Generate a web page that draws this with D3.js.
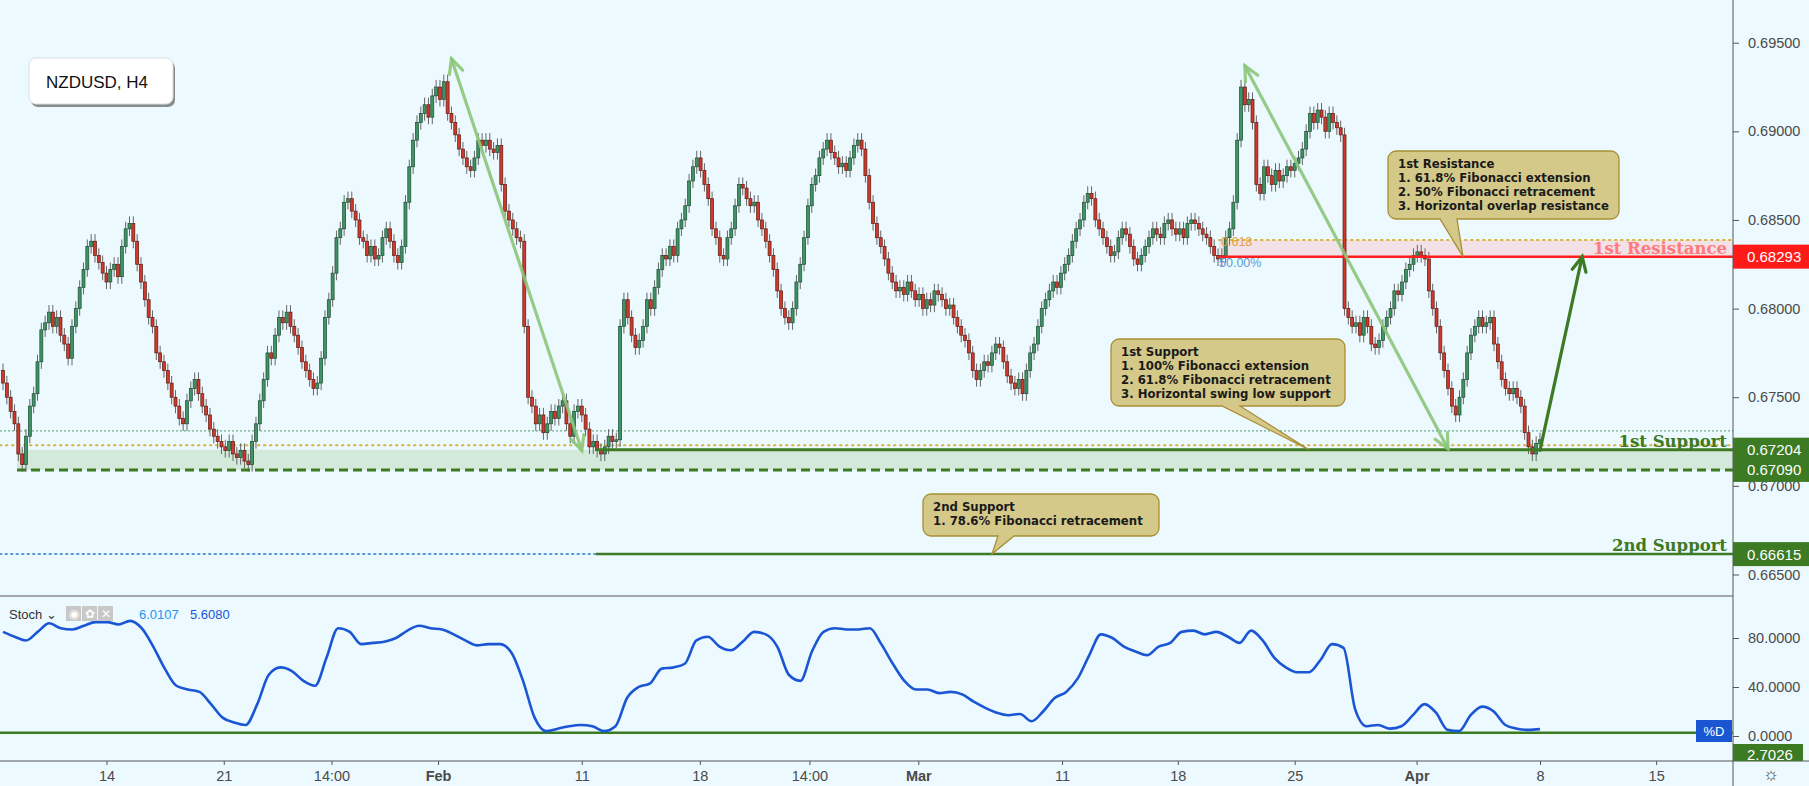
<!DOCTYPE html>
<html><head><meta charset="utf-8">
<script src="https://cdn.jsdelivr.net/npm/d3@7"></script>
<style>body{margin:0;background:#ecf9ff;overflow:hidden}svg{display:block}</style>
</head><body><svg id="c" width="1809" height="786"></svg>
<script>
// closes in pips (0.xxxx)
const closes = [6758,6750,6742, 6735,6718,6712,6728, 6745,6752,6770,6788,6792, 6798,6790,6795,6785,6780,6772,
6790,6800,6812,6822,6835, 6838,6830,6826,6820,6815, 6822,6825,6818,6835,6845,6848, 6838,6825,6815,6805,6795,
6790,6775,6770,6765,6758,6750, 6745,6738,6735,6748,6755,6760, 6752,6745,6740,6732,6728,6725,
6722,6720,6725,6718,6716,6720,6714,6712, 6725,6735,6748,6760,6775,6772, 6785,6795,6792,6798,6790,6785,
6778,6770,6765,6760,6755,6758, 6772,6795,6805,6820,6840,6845, 6860,6862,6855,6850,6840,6838,
6830,6835,6828,6830,6840,6845, 6838,6830,6826,6835,6860,6880, 6895,6905,6910,6915,6908,6920,6925,
6918,6928,6910,6905,6898,6890,6885, 6880,6878,6885,6895,6892,6895,6890,6888,6892, 6870,6855,6850,6845,6840,6838,
6790,6750,6745,6735,6740,6730,6735, 6742,6738,6745,6748,6735,6728,6742,6745,6740, 6732,6722,6725,6720,6718,6722,6728,6725,6726,
6790,6805,6795,6785, 6778,6782,6790,6805,6800,6812,6822,6830, 6828,6835,6830,6845,6850,6858,6872,6880,6885,
6878,6870,6862,6845,6840,6830, 6828,6840,6845,6858,6870,6868,6862,6858,6860, 6850,6845,6838,6830,6822,6810,6800,6795,6792,6800,
6815,6825,6840,6858,6870,6875,6885,6890,6895, 6888,6885,6880,6882,6878,6885,6892,6895,6890, 6875,6860,6848,6840,6835,6828,6820,6815,6810,
6812,6808,6815,6810,6805,6808,6800,6805,6802, 6810,6808,6805,6800,6802,6795,6790,6785,6782, 6775,6765,6760,6765,6770,6768,6775,6780,6778,
6770,6762,6758,6755,6760,6752,6765,6775,6780, 6790,6800,6805,6810,6815,6812,6820,6825,6830, 6838,6845,6850,6860,6865,6862,6850,6845,6840,
6835,6830,6832,6840,6845,6842,6835,6828,6825, 6830,6835,6840,6845,6842,6840,6848,6850,6845, 6842,6845,6840,6848,6850,6848,6845,6842,6840,
6835,6830,6828,6830,6840,6845,6860,6895, 6925,6915,6918,6905,6870, 6865,6880,6875,6870,6878,6872,6875,6880,6878,6882,6885,6890,
6900,6910,6905,6912,6908,6900,6910,6905,6902,6898, 6800,6795,6790,6792,6785,6795,6790,6780,6778,6782,
6790,6795,6800,6810,6808,6815,6822,6825,6830,6832,6830,6828, 6810,6800,6790,6775,6765,6755,6745,6740,6750,
6760,6775,6785,6790,6795,6790,6792,6795,6780, 6770,6760,6755,6752,6755,6750,6745,6730,6722,6718,6724,6726];
const firstOpen = 6765;
const stochVals = [85,81,78,85,92,88,87,90,93,93,91,94,88,73,55,41,38,36,26,15,11,9,26,50,56,53,45,41,64,88,85,75,76,77,80,86,90,88,87,83,78,74,75,75,68,45,15,4,6,8,9,8,4,8,31,40,43,55,56,59,78,81,73,70,77,85,83,73,50,45,69,85,88,87,87,88,75,59,45,38,38,35,36,34,28,23,19,17,18,12,20,31,36,47,66,83,80,73,69,66,73,76,85,86,83,85,81,76,86,78,64,56,52,52,62,75,72,22,8,9,6,8,17,26,19,5,4,17,24,20,9,6,5,5.6];
const priceTicks = [0.695,0.690,0.685,0.680,0.675,0.670,0.665];
const stochTicks = [80,40,0];
const timeLabels = ["14","21","14:00","Feb","11","18","14:00","Mar","11","18","25","Apr","8","15"];
const timeIdx = [27,57.6,85.7,113.5,151,181.8,210.4,238.8,276.3,306.5,337,368.8,401,431.3];
const boldLabels = ["Feb","Mar","Apr"];
const res1 = 0.68293, res1Top = 0.68387;
const sup1 = 0.67204, sup1Low = 0.67090, sup2 = 0.66615, orangeSup = 0.67229, lastLine = 0.67310;
const resNotes = ["1st Resistance","1. 61.8% Fibonacci extension","2. 50% Fibonacci retracement","3. Horizontal overlap resistance"];
const sup1Notes = ["1st Support","1. 100% Fibonacci extension","2. 61.8% Fibonacci retracement","3. Horizontal swing low support"];
const sup2Notes = ["2nd Support","1. 78.6% Fibonacci retracement"];

const svg = d3.select("#c");
const W=1809, AX=1733;
const x = d3.scaleLinear().domain([0,401]).range([3,1540]);
const y = d3.scaleLinear().domain([0.665,0.695]).range([574.5,42.7]);
const ys = d3.scaleLinear().domain([0,80]).range([736,638]);
const fmt = d3.format(".5f");

svg.append("rect").attr("width",W).attr("height",786).attr("fill","#ecf9ff");
svg.append("rect").attr("x",1219).attr("y",y(res1Top)).attr("width",AX-1219).attr("height",y(res1)-y(res1Top)).attr("fill","#f2e1e6");
svg.append("rect").attr("x",17).attr("y",y(sup1)).attr("width",AX-17).attr("height",y(sup1Low)-y(sup1)).attr("fill","#d3eadb");
const hl=(p,x1,x2,col,w,dash)=>svg.append("line").attr("x1",x1).attr("x2",x2).attr("y1",y(p)).attr("y2",y(p)).attr("stroke",col).attr("stroke-width",w).attr("stroke-dasharray",dash||null);
hl(lastLine,0,AX,"#4d9a6a",1,"2,2");
hl(orangeSup,0,AX,"#d6b33a",2,"1.5,4.5").attr("stroke-linecap","round");
hl(res1Top,1219,AX,"#d6b33a",2,"1.5,4.5").attr("stroke-linecap","round");
hl(sup2,0,596,"#5a9ad6",2,"1.5,4").attr("stroke-linecap","round");

const cd = closes.map((c,i)=>{const o=i?closes[i-1]:firstOpen;return {i,o:o/1e4,c:c/1e4};});
const g = svg.append("g");
g.selectAll(".w").data(cd).join("line").attr("x1",d=>x(d.i)).attr("x2",d=>x(d.i))
 .attr("y1",d=>y(Math.max(d.o,d.c)+0.0004)).attr("y2",d=>y(Math.min(d.o,d.c)-0.0004)).attr("stroke","#666").attr("stroke-width",1);
g.selectAll(".b").data(cd).join("rect").attr("x",d=>x(d.i)-1.5).attr("width",3)
 .attr("y",d=>y(Math.max(d.o,d.c))).attr("height",d=>Math.max(1.5,Math.abs(y(d.o)-y(d.c))))
 .attr("fill",d=>d.c>=d.o?"#3f9466":"#d0392b").attr("stroke",d=>d.c>=d.o?"#1f4a30":"#5a1a12").attr("stroke-width",0.7);

hl(res1,1219,AX,"#ff1e1e",2.5);
hl(sup1,596,AX,"#3c7a23",3);
hl(sup1Low,17,AX,"#3c7a23",3,"9,5");
hl(sup2,596,AX,"#3c7a23",2.5);

svg.append("text").attr("x",1221).attr("y",y(res1Top)+6).text("0.618").attr("fill","#e0a040").attr("font-family","Liberation Sans").attr("font-size",12.5);
svg.append("text").attr("x",1219).attr("y",y(res1)+10).text("50.00%").attr("fill","#5a9ad6").attr("font-family","Liberation Sans").attr("font-size",12.5);

function arrow(x1,y1,x2,y2,col,w,both,op){
  const draw=(ax,ay,bx,by)=>{const a=Math.atan2(by-ay,bx-ax),L=16,s=0.45;
    const p=d3.path();p.moveTo(bx-L*Math.cos(a-s),by-L*Math.sin(a-s));p.lineTo(bx,by);p.lineTo(bx-L*Math.cos(a+s),by-L*Math.sin(a+s));
    svg.append("path").attr("d",p).attr("fill","none").attr("stroke",col).attr("stroke-width",w).attr("opacity",op).attr("stroke-linecap","round");};
  svg.append("line").attr("x1",x1).attr("y1",y1).attr("x2",x2).attr("y2",y2).attr("stroke",col).attr("stroke-width",w).attr("opacity",op).attr("stroke-linecap","round");
  draw(x1,y1,x2,y2); if(both) draw(x2,y2,x1,y1);
}
arrow(x(117),y(0.6941),x(151),y(0.6720),"#8cc77a",3.2,true,0.9);
arrow(x(324),y(0.6937),x(377),y(0.6721),"#8cc77a",3.2,true,0.9);
arrow(x(401),y(0.6720),x(412),y(res1),"#3c7a23",3.2,false,1);

function callout(x0,y0,w,h,tip,b1,b2,lines){
  const p=d3.path(),r=8;
  p.moveTo(x0+r,y0);p.lineTo(x0+w-r,y0);p.arcTo(x0+w,y0,x0+w,y0+r,r);p.lineTo(x0+w,y0+h-r);p.arcTo(x0+w,y0+h,x0+w-r,y0+h,r);
  p.lineTo(b2,y0+h);p.lineTo(tip[0],tip[1]);p.lineTo(b1,y0+h);
  p.lineTo(x0+r,y0+h);p.arcTo(x0,y0+h,x0,y0+h-r,r);p.lineTo(x0,y0+r);p.arcTo(x0,y0,x0+r,y0,r);p.closePath();
  svg.append("path").attr("d",p).attr("fill","#d5c98a").attr("stroke","#a88f34").attr("stroke-width",1.3);
  const t=svg.append("text").attr("font-family","DejaVu Sans Condensed").attr("font-weight","bold").attr("font-size",13).attr("fill","#1a1a1a");
  lines.forEach((l,k)=>t.append("tspan").attr("x",x0+10).attr("y",y0+17+k*14).text(l));
}
callout(1388,151,231,68,[1463,y(res1)],1440,1457,resNotes);
callout(1111,339,234,67,[1309,y(sup1)],1222,1240,sup1Notes);
callout(923,494,236,42,[992,y(sup2)],998,1014,sup2Notes);

const lt=(txt,p,col)=>svg.append("text").attr("x",1727).attr("y",p).attr("text-anchor","end").text(txt).attr("fill",col)
 .attr("font-family","DejaVu Serif").attr("font-weight","bold").attr("font-size",16.5);
lt("1st Resistance",y(res1)-3,"#ff7a7a");
lt("1st Support",y(sup1)-3,"#3c7a23");
lt("2nd Support",y(sup2)-3,"#3c7a23");

svg.append("rect").attr("x",31).attr("y",61).attr("width",144).attr("height",46).attr("rx",7).attr("fill","#444").attr("opacity",0.6);
svg.append("rect").attr("x",29).attr("y",58).attr("width",144).attr("height",46).attr("rx",7).attr("fill","#fff").attr("stroke","#ddd");
svg.append("text").attr("x",46).attr("y",88).text("NZDUSD, H4").attr("font-family","Liberation Sans").attr("font-size",17).attr("fill","#111");

svg.append("line").attr("x1",0).attr("x2",AX).attr("y1",596).attr("y2",596).attr("stroke","#555");
svg.append("line").attr("x1",0).attr("x2",W).attr("y1",761).attr("y2",761).attr("stroke","#555");
svg.append("line").attr("x1",AX).attr("x2",AX).attr("y1",0).attr("y2",786).attr("stroke","#555");

svg.append("line").attr("x1",0).attr("x2",AX).attr("y1",ys(2.7026)).attr("y2",ys(2.7026)).attr("stroke","#3c7a23").attr("stroke-width",2.5);
const sx = d3.scaleLinear().domain([0,stochVals.length-1]).range([x(0),x(401)]);
svg.append("path").datum(stochVals).attr("d",d3.line().x((d,i)=>sx(i)).y(d=>ys(d)).curve(d3.curveMonotoneX))
 .attr("fill","none").attr("stroke","#1a56d4").attr("stroke-width",2.6);
svg.append("text").attr("x",9).attr("y",619).text("Stoch ⌄").attr("font-family","Liberation Sans").attr("font-size",13).attr("fill","#333");
[66,82,98].forEach((xx,k)=>{svg.append("rect").attr("x",xx).attr("y",606).attr("width",15).attr("height",15).attr("fill","#c8c8c8");
 svg.append("text").attr("x",xx+7.5).attr("y",618).attr("text-anchor","middle").text(["◉","✿","✕"][k]).attr("font-size",12).attr("fill","#fff");});
svg.append("text").attr("x",139).attr("y",619).text("6.0107").attr("font-family","Liberation Sans").attr("font-size",13).attr("fill","#2196f3");
svg.append("text").attr("x",190).attr("y",619).text("5.6080").attr("font-family","Liberation Sans").attr("font-size",13).attr("fill","#1a56d4");
svg.append("rect").attr("x",1696).attr("y",720).attr("width",36).attr("height",22).attr("fill","#1a56d4");
svg.append("text").attr("x",1714).attr("y",736).attr("text-anchor","middle").text("%D").attr("font-family","Liberation Sans").attr("font-size",13).attr("fill","#fff");

const ya=svg.append("g").attr("transform",`translate(${AX},0)`).call(d3.axisRight(y).tickValues(priceTicks).tickFormat(fmt).tickSize(6));
const ysa=svg.append("g").attr("transform",`translate(${AX},0)`).call(d3.axisRight(ys).tickValues(stochTicks).tickFormat(d3.format(".4f")).tickSize(6));
[ya,ysa].forEach(a=>{a.select(".domain").remove();a.selectAll("line").attr("stroke","#555");a.selectAll("text").attr("font-family","Liberation Sans").attr("font-size",14.5).attr("fill","#4a4a4a").attr("dx",6);});
const pl=(p,col,h)=>{svg.append("rect").attr("x",AX).attr("y",y(p)-h/2).attr("width",76).attr("height",h).attr("fill",col);
 svg.append("text").attr("x",AX+14).attr("y",y(p)+5.5).text(fmt(p)).attr("fill","#fff").attr("font-family","Liberation Sans").attr("font-size",15);};
pl(res1,"#ff1a1a",24);pl(sup1,"#3c7a23",24);pl(sup1Low,"#3c7a23",24);pl(sup2,"#3c7a23",24);
svg.append("rect").attr("x",AX).attr("y",744).attr("width",70).attr("height",17).attr("fill","#3c7a23");
svg.append("text").attr("x",AX+14).attr("y",760).text("2.7026").attr("fill","#fff").attr("font-family","Liberation Sans").attr("font-size",15);

const xa=svg.append("g").attr("transform","translate(0,761)").call(d3.axisBottom(x).tickValues(timeIdx).tickFormat((d,i)=>timeLabels[i]).tickSize(4).tickPadding(6));
xa.select(".domain").remove();xa.selectAll("line").attr("stroke","#555");
xa.selectAll("text").attr("font-family","Liberation Sans").attr("font-size",14.5).attr("fill","#4a4a4a")
 .attr("font-weight",(d,i)=>boldLabels.includes(timeLabels[i])?"bold":null);
svg.append("text").attr("x",1771).attr("y",780).attr("text-anchor","middle").text("☼").attr("font-size",18).attr("fill","#444");
</script></body></html>
